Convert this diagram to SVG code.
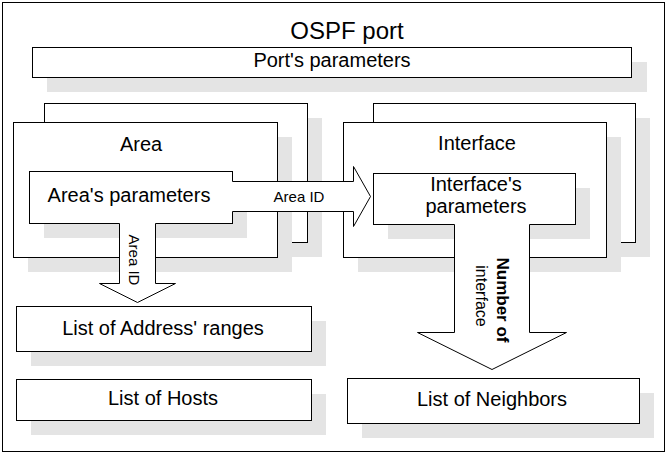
<svg xmlns="http://www.w3.org/2000/svg" width="671" height="455" viewBox="0 0 671 455">
<style>
.box{fill:#fff;stroke:#000;stroke-width:1}
.sh{fill:#e4e4e4}
.t{font-family:"Liberation Sans",Arial,sans-serif;font-size:20px;fill:#000;text-anchor:middle}
.s{font-size:15px}
.af{fill:#fff;stroke:none}
.al{fill:none;stroke:#000;stroke-width:1}
</style>
<rect x="0" y="0" width="671" height="455" fill="#fff"/>
<g id="frame">
<rect x="2.5" y="2.5" width="662" height="449" fill="#fff" stroke="#000"/>
<text class="t" x="347" y="39" style="font-size:24px">OSPF port</text>
</g>
<g id="port-params">
<rect class="sh" x="47" y="62" width="600" height="30"/>
<rect class="box" x="32.5" y="47.5" width="599" height="30"/>
<text class="t" x="332" y="67">Port's parameters</text>
</g>
<g id="area-back">
<rect class="sh" x="59" y="118" width="263" height="139"/>
<rect class="box" x="44.5" y="103.5" width="263" height="139"/>
</g>
<g id="area">
<rect class="sh" x="28" y="137" width="264" height="135"/>
<rect class="box" x="13.5" y="122.5" width="264" height="135"/>
<text class="t" x="141" y="151">Area</text>
</g>
<g id="area-params">
<rect class="sh" x="44" y="186" width="203" height="52"/>
<rect class="box" x="29.5" y="171.5" width="203" height="52"/>
<text class="t" x="129" y="202">Area's parameters</text>
</g>
<g id="interface-back">
<rect class="sh" x="388" y="118" width="262" height="139"/>
<rect class="box" x="373.5" y="103.5" width="262" height="139"/>
</g>
<g id="interface">
<rect class="sh" x="358" y="137" width="263" height="135"/>
<rect class="box" x="343.5" y="122.5" width="263" height="135"/>
<text class="t" x="477" y="150">Interface</text>
</g>
<g id="interface-params">
<rect class="sh" x="388" y="188" width="202" height="51"/>
<rect class="box" x="373.5" y="173.5" width="202" height="51"/>
<text class="t" x="476" y="191">Interface's</text>
<text class="t" x="476" y="213">parameters</text>
</g>
<g id="address-ranges">
<rect class="sh" x="31" y="321" width="295" height="45"/>
<rect class="box" x="16.5" y="306.5" width="295" height="45"/>
<text class="t" x="163" y="335">List of Address' ranges</text>
</g>
<g id="hosts">
<rect class="sh" x="31" y="394" width="295" height="41"/>
<rect class="box" x="16.5" y="379.5" width="295" height="41"/>
<text class="t" x="163" y="405">List of Hosts</text>
</g>
<g id="neighbors">
<rect class="sh" x="362" y="393" width="292" height="45"/>
<rect class="box" x="347.5" y="378.5" width="292" height="45"/>
<text class="t" x="492" y="406">List of Neighbors</text>
</g>
<g id="connectors">
<polygon class="af" points="231,181.5 353.5,181.5 353.5,166.5 370.5,196.5 353.5,226.5 353.5,211.5 231,211.5"/>
<path class="al" d="M232.5,181.5 H353.5 V166.5 L370.5,196.5 L353.5,226.5 V211.5 H232.5"/>
<text class="t s" x="299" y="202">Area ID</text>
<polygon class="af" points="119.5,222 155.5,222 155.5,283.5 175.5,283.5 137.5,302.5 99.5,283.5 119.5,283.5"/>
<path class="al" d="M119.5,223.5 V283.5 H99.5 L137.5,302.5 L175.5,283.5 H155.5 V223.5"/>
<text class="t s" transform="translate(129,260) rotate(90)">Area ID</text>
<polygon class="af" points="454.5,223 529.5,223 529.5,332.5 566.5,332.5 492,369.5 417.5,332.5 454.5,332.5"/>
<path class="al" d="M454.5,224.5 V332.5 H417.5 L492,369.5 L566.5,332.5 H529.5 V224.5"/>
<text class="t" transform="translate(497,300) rotate(90)" style="font-size:17px;font-weight:bold">Number of</text>
<text class="t" transform="translate(476,296) rotate(90)" style="font-size:16px">interface</text>
</g>
</svg>
